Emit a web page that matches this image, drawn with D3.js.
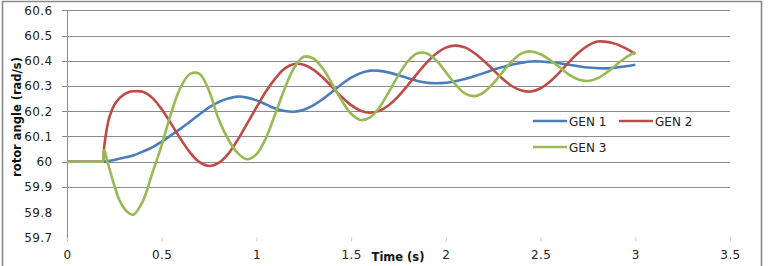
<!DOCTYPE html>
<html>
<head>
<meta charset="utf-8">
<script src="https://cdn.jsdelivr.net/npm/d3@7"></script>
<style>
  body { margin: 0; background: #fff; }
  text { font-family: "DejaVu Sans", sans-serif; }
</style>
</head>
<body>
<div id="chart-area"></div>
<script>
// time (s)
var time = [0, 0.1, 0.18, 0.188, 0.19, 0.195, 0.2, 0.21, 0.225, 0.25, 0.275, 0.3, 0.325, 0.35,
  0.4, 0.45, 0.5, 0.55, 0.6, 0.65, 0.7, 0.75, 0.8, 0.85, 0.9, 0.95,
  1.0, 1.05, 1.1, 1.15, 1.2, 1.25, 1.3, 1.35, 1.4, 1.45, 1.5, 1.55,
  1.6, 1.65, 1.7, 1.75, 1.8, 1.85, 1.9, 1.95, 2.0, 2.05, 2.1, 2.15,
  2.2, 2.25, 2.3, 2.35, 2.4, 2.45, 2.5, 2.55, 2.6, 2.65, 2.7, 2.75,
  2.8, 2.85, 2.9, 2.95, 3.0];

var gen1 = [60, 60, 60, 60, 60, 60, 60.001, 60.002, 60.004, 60.007, 60.012, 60.016, 60.02, 60.025,
  60.04, 60.057, 60.08, 60.105, 60.131, 60.159, 60.188, 60.215, 60.236, 60.25, 60.258, 60.254,
  60.243, 60.227, 60.211, 60.201, 60.198, 60.206, 60.223, 60.248, 60.277, 60.307, 60.333, 60.351,
  60.361, 60.36, 60.353, 60.343, 60.331, 60.32, 60.313, 60.311, 60.313, 60.319, 60.328, 60.339,
  60.351, 60.364, 60.375, 60.385, 60.392, 60.397, 60.397, 60.394, 60.39, 60.384, 60.378, 60.373,
  60.371, 60.37, 60.373, 60.378, 60.384];

var gen2 = [60, 60, 60, 60, 60, 60.05, 60.08, 60.13, 60.18, 60.225, 60.25, 60.266, 60.275, 60.279,
  60.277, 60.253, 60.208, 60.15, 60.09, 60.036, 59.998, 59.983, 59.995, 60.03, 60.085, 60.15,
  60.215, 60.278, 60.33, 60.37, 60.387, 60.384, 60.365, 60.334, 60.296, 60.257, 60.224, 60.202,
  60.194, 60.202, 60.225, 60.26, 60.304, 60.35, 60.394, 60.429, 60.452, 60.46, 60.453, 60.431,
  60.4, 60.364, 60.328, 60.299, 60.282, 60.278, 60.291, 60.318, 60.354, 60.395, 60.432, 60.46,
  60.476, 60.475, 60.466, 60.449, 60.427];

var gen3 = [60, 60, 60, 60, 60, 60.045, 60.04, 60.01, 59.97, 59.905, 59.85, 59.817, 59.797, 59.79,
  59.843, 59.954, 60.066, 60.193, 60.295, 60.348, 60.348, 60.28, 60.17, 60.09, 60.035, 60.01,
  60.029, 60.094, 60.19, 60.291, 60.373, 60.416, 60.409, 60.37, 60.308, 60.243, 60.19, 60.165,
  60.176, 60.216, 60.277, 60.343, 60.399, 60.43, 60.429, 60.401, 60.355, 60.307, 60.271, 60.26,
  60.275, 60.31, 60.356, 60.399, 60.429, 60.437, 60.426, 60.403, 60.374, 60.345, 60.326, 60.32,
  60.33, 60.354, 60.384, 60.413, 60.434];

var seriesNames = ['GEN 1', 'GEN 2', 'GEN 3'];
var seriesColors = ['#4a7ebb', '#be4b48', '#98b954'];

var yTicks = [59.7, 59.8, 59.9, 60, 60.1, 60.2, 60.3, 60.4, 60.5, 60.6];
var yGridTicks = [59.9, 60, 60.1, 60.2, 60.3, 60.4, 60.5, 60.6];
var xTicks = [0, 0.5, 1, 1.5, 2, 2.5, 3, 3.5];

var W = 769, H = 266;
var plot = { left: 67, right: 730, top: 10.3, bottom: 237.4 };

var svg = d3.select('#chart-area')
  .append('svg')
  .attr('width', W)
  .attr('height', H);

// outer frame (bottom edge is cropped off in the original)
svg.append('path')
  .attr('d', 'M2.5,' + (H + 2) + 'V1.5H761.5V' + (H + 2))
  .attr('fill', 'none')
  .attr('stroke', '#8a8a8a')
  .attr('stroke-width', 1.6);

var x = d3.scaleLinear()
  .domain([0, 3.5])
  .range([plot.left, plot.right]);

var y = d3.scaleLinear()
  .domain([59.7, 60.6])
  .range([plot.bottom, plot.top]);

// gridlines
svg.append('g')
  .attr('class', 'grid')
  .selectAll('line')
  .data(yGridTicks)
  .enter()
  .append('line')
    .attr('x1', plot.left - 5)
    .attr('x2', plot.right)
    .attr('y1', function(d) { return Math.round(y(d)) + 0.5; })
    .attr('y2', function(d) { return Math.round(y(d)) + 0.5; })
    .attr('stroke', '#8c8c8c')
    .attr('stroke-width', 1);

// Y axis
var yAxisCall = d3.axisLeft(y)
  .tickValues(yTicks)
  .tickSize(0)
  .tickPadding(15)
  .tickFormat(function(d) { return d3.format('')(+d.toFixed(1)); });

var yAxis = svg.append('g')
  .attr('transform', 'translate(' + (plot.left + 0.5) + ', 0)')
  .call(yAxisCall);
yAxis.select('.domain')
  .attr('d', 'M0,' + plot.top + 'V' + (plot.bottom + 3))
  .attr('stroke', '#8c8c8c');
yAxis.selectAll('text')
  .attr('font-size', '12px')
  .attr('font-family', '"DejaVu Sans", sans-serif')
  .attr('letter-spacing', '0.4px')
  .attr('fill', '#222');

// X axis
var xAxisCall = d3.axisBottom(x)
  .tickValues(xTicks)
  .tickSize(4)
  .tickPadding(9)
  .tickFormat(function(d) { return d3.format('')(d); });

var xAxis = svg.append('g')
  .attr('transform', 'translate(0, ' + plot.bottom + ')')
  .call(xAxisCall);
xAxis.select('.domain').remove();
xAxis.selectAll('line').attr('stroke', '#c8c8c8');
xAxis.selectAll('text')
  .attr('font-size', '12px')
  .attr('font-family', '"DejaVu Sans", sans-serif')
  .attr('letter-spacing', '0.4px')
  .attr('fill', '#222');

// lines
var line = d3.line()
  .x(function(d) { return x(d[0]); })
  .y(function(d) { return y(d[1]); })
  .curve(d3.curveCatmullRom.alpha(0.5));

var allSeries = [gen1, gen2, gen3];

svg.append('g')
  .selectAll('path')
  .data(allSeries)
  .enter()
  .append('path')
    .attr('d', function(s) {
      return line(time.map(function(t, i) { return [t, s[i]]; }));
    })
    .attr('fill', 'none')
    .attr('stroke', function(d, i) { return seriesColors[i]; })
    .attr('stroke-width', 2.6)
    .attr('stroke-linejoin', 'round');

// legend
var legendPos = [[533, 121], [619, 121], [533, 147]];

var legend = svg.append('g')
  .selectAll('g')
  .data(seriesNames)
  .enter()
  .append('g')
    .attr('transform', function(d, i) {
      return 'translate(' + legendPos[i][0] + ', ' + legendPos[i][1] + ')';
    });

legend.append('line')
  .attr('x1', 0)
  .attr('x2', 34)
  .attr('stroke', function(d, i) { return seriesColors[i]; })
  .attr('stroke-width', 2.6);

legend.append('text')
  .attr('x', 36)
  .attr('y', 4.5)
  .attr('font-size', '12px')
  .attr('fill', '#222')
  .text(function(d) { return d; });

// axis labels
svg.append('text')
  .attr('x', 398)
  .attr('y', 261)
  .attr('text-anchor', 'middle')
  .attr('font-size', '11.5px')
  .attr('font-weight', 'bold')
  .attr('fill', '#111')
  .text('Time (s)');

svg.append('text')
  .attr('transform', 'translate(20.5, 117) rotate(-90)')
  .attr('text-anchor', 'middle')
  .attr('font-size', '11.5px')
  .attr('font-weight', 'bold')
  .attr('fill', '#111')
  .text('rotor angle (rad/s)');
</script>
</body>
</html>
